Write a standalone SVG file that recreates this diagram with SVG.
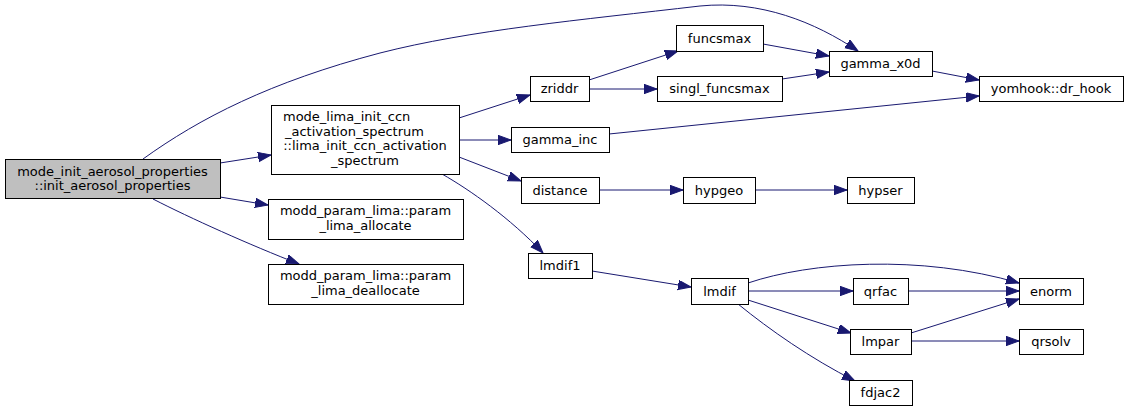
<svg xmlns="http://www.w3.org/2000/svg" width="1128" height="411" viewBox="0 0 1128 411">
<style>
.n rect{fill:#fff;stroke:#000;stroke-width:1}
.n text{font-family:"DejaVu Sans",sans-serif;font-size:13px;fill:#000;text-anchor:middle}
#edges path{fill:none;stroke:#191970;stroke-width:1;marker-end:url(#ah)}
</style>
<defs>
<marker id="ah" markerUnits="userSpaceOnUse" markerWidth="15" markerHeight="11" refX="13" refY="4.7" orient="auto">
<path d="M0,0 L13,4.7 L0,9.4 z" fill="#191970" stroke="#191970" stroke-width="1"/>
</marker>
</defs>
<rect width="1128" height="411" fill="#fff"/>
<g id="edges">
<path d="M220,163 L271,155"/>
<path d="M220,197 L268,205"/>
<path d="M153,199 C190,218 250,245 299,264"/>
<path d="M143,159 C200,118 270,82 380,53 C470,30 580,20 700,6 C760,0 815,22 858,51"/>
<path d="M459,118 L530,95"/>
<path d="M459,140 L511,140"/>
<path d="M459,157 L521,181"/>
<path d="M442,174 C470,190 510,218 543,253"/>
<path d="M589,80 L678,51"/>
<path d="M589,89 L657,89"/>
<path d="M763,44 L829,56"/>
<path d="M782,79 L829,72"/>
<path d="M932,71 L979,80"/>
<path d="M609,134 L979,96"/>
<path d="M599,190 L683,190"/>
<path d="M755,190 L847,190"/>
<path d="M592,271 L691,287"/>
<path d="M748,283 C810,262 920,254 1019,283"/>
<path d="M748,291 L853,291"/>
<path d="M908,291 L1019,291"/>
<path d="M748,300 L851,333"/>
<path d="M738,304 C770,330 810,358 855,381"/>
<path d="M911,333 L1019,299"/>
<path d="M911,341 L1019,341"/>
</g>
<g id="n0" class="n"><rect x="5.5" y="159.5" width="215" height="39" style="fill:#bfbfbf"/><text x="112.5" y="175.5">mode_init_aerosol_properties</text><text x="112.5" y="190">::init_aerosol_properties</text></g>
<g id="n1" class="n"><rect x="271.5" y="105.5" width="188" height="69"/><text x="283" y="121" style="text-anchor:start">mode_lima_init_ccn</text><text x="285" y="135.5" style="text-anchor:start">_activation_spectrum</text><text x="365" y="150">::lima_init_ccn_activation</text><text x="365" y="164.5">_spectrum</text></g>
<g id="n2" class="n"><rect x="268.5" y="199.5" width="195" height="40"/><text x="365.5" y="215">modd_param_lima::param</text><text x="365.5" y="229.5">_lima_allocate</text></g>
<g id="n3" class="n"><rect x="268.5" y="264.5" width="195" height="40"/><text x="365.5" y="280">modd_param_lima::param</text><text x="365.5" y="294.5">_lima_deallocate</text></g>
<g id="n4" class="n"><rect x="530.5" y="76.5" width="59" height="25"/><text x="559.5" y="93">zriddr</text></g>
<g id="n5" class="n"><rect x="676.5" y="25.5" width="87" height="26"/><text x="719.5" y="42.5">funcsmax</text></g>
<g id="n6" class="n"><rect x="657.5" y="76.5" width="125" height="25"/><text x="719.5" y="93">singl_funcsmax</text></g>
<g id="n7" class="n"><rect x="511.5" y="127.5" width="98" height="25"/><text x="560" y="144">gamma_inc</text></g>
<g id="n8" class="n"><rect x="829.5" y="51.5" width="103" height="25"/><text x="880.5" y="68">gamma_x0d</text></g>
<g id="n9" class="n"><rect x="979.5" y="76.5" width="144" height="25"/><text x="1051" y="93">yomhook::dr_hook</text></g>
<g id="n10" class="n"><rect x="521.5" y="177.5" width="78" height="26"/><text x="560" y="194.5">distance</text></g>
<g id="n11" class="n"><rect x="683.5" y="177.5" width="72" height="26"/><text x="719" y="194.5">hypgeo</text></g>
<g id="n12" class="n"><rect x="847.5" y="177.5" width="67" height="26"/><text x="880.5" y="194.5">hypser</text></g>
<g id="n13" class="n"><rect x="528.5" y="253.5" width="64" height="25"/><text x="560" y="270">lmdif1</text></g>
<g id="n14" class="n"><rect x="691.5" y="278.5" width="57" height="26"/><text x="719.5" y="295.5">lmdif</text></g>
<g id="n15" class="n"><rect x="853.5" y="278.5" width="55" height="26"/><text x="880.5" y="295.5">qrfac</text></g>
<g id="n16" class="n"><rect x="1019.5" y="278.5" width="64" height="26"/><text x="1051" y="295.5">enorm</text></g>
<g id="n17" class="n"><rect x="850.5" y="329.5" width="61" height="25"/><text x="880.5" y="346">lmpar</text></g>
<g id="n18" class="n"><rect x="1019.5" y="329.5" width="64" height="25"/><text x="1051" y="346">qrsolv</text></g>
<g id="n19" class="n"><rect x="849.5" y="380.5" width="63" height="25"/><text x="880.5" y="397">fdjac2</text></g>
</svg>
